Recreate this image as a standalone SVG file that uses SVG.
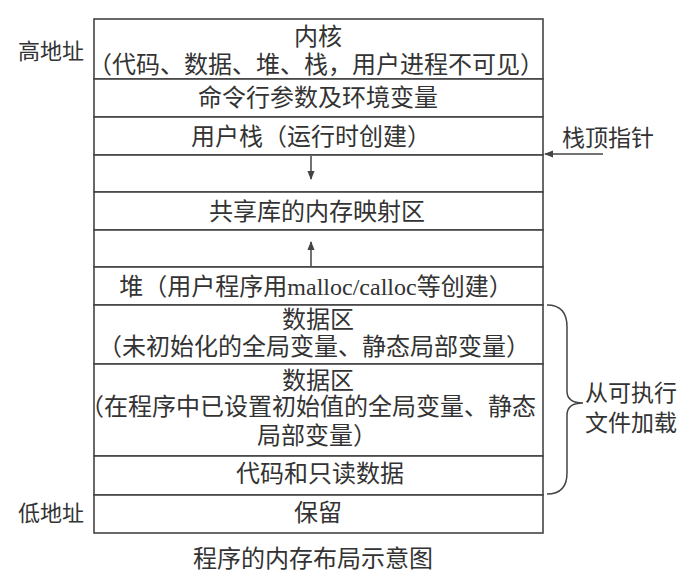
<svg xmlns="http://www.w3.org/2000/svg" width="691" height="576" viewBox="0 0 691 576">
<defs>
<style>
.row{fill:#ffffff;stroke:#444;stroke-width:1.6}
.t{font-family:"Liberation Serif","Noto Sans CJK SC",serif;font-size:24px;fill:#333;text-anchor:middle}
.s{font-family:"Liberation Serif","Noto Sans CJK SC",serif;font-size:22px;fill:#333}
.r{font-family:"Liberation Serif","Noto Sans CJK SC",serif;font-size:23px;fill:#333}
.ln{stroke:#444;stroke-width:1.5;fill:none}
</style>
<marker id="ah" viewBox="0 0 10 10" refX="9" refY="5" markerWidth="9" markerHeight="9" markerUnits="userSpaceOnUse" orient="auto">
<path d="M0,1 L10,5 L0,9 Z" fill="#444"/>
</marker>
</defs>
<rect width="691" height="576" fill="#ffffff"/>
<g id="kernel"><rect class="row" x="94" y="19" width="449" height="60"/><text class="t" x="318" y="45">内核</text><text class="t" x="316" y="73">（代码、数据、堆、栈，用户进程不可见）</text></g>
<g id="args"><rect class="row" x="94" y="79" width="449" height="38"/><text class="t" x="318" y="106">命令行参数及环境变量</text></g>
<g id="user-stack"><rect class="row" x="94" y="117" width="449" height="38"/><text class="t" x="311" y="145">用户栈（运行时创建）</text></g>
<g id="gap-stack"><rect class="row" x="94" y="155" width="449" height="37"/></g>
<g id="shared-lib"><rect class="row" x="94" y="192" width="449" height="38"/><text class="t" x="317" y="220">共享库的内存映射区</text></g>
<g id="gap-heap"><rect class="row" x="94" y="230" width="449" height="37"/></g>
<g id="heap"><rect class="row" x="94" y="267" width="449" height="38"/><text class="t" x="316" y="295">堆（用户程序用malloc/calloc等创建）</text></g>
<g id="bss"><rect class="row" x="94" y="305" width="449" height="59"/><text class="t" x="318" y="328">数据区</text><text class="t" x="314" y="355">（未初始化的全局变量、静态局部变量）</text></g>
<g id="data"><rect class="row" x="94" y="364" width="449" height="92"/><text class="t" x="318" y="389">数据区</text><text class="t" x="308" y="415">（在程序中已设置初始值的全局变量、静态</text><text class="t" x="317" y="444">局部变量）</text></g>
<g id="text-seg"><rect class="row" x="94" y="456" width="449" height="39"/><text class="t" x="320" y="482">代码和只读数据</text></g>
<g id="reserved"><rect class="row" x="94" y="495" width="449" height="38"/><text class="t" x="318" y="521">保留</text></g>
<g id="high-addr"><text class="s" x="18" y="59">高地址</text></g>
<g id="low-addr"><text class="s" x="18" y="521">低地址</text></g>
<g id="sp-label"><text class="r" x="562" y="146">栈顶指针</text></g>
<g id="load-label"><text class="r" x="585" y="401">从可执行</text><text class="r" x="585" y="431">文件加载</text></g>
<g id="caption"><text class="t" x="313" y="567">程序的内存布局示意图</text></g>
<g id="connectors">
<line class="ln" x1="311" y1="156" x2="311" y2="179" marker-end="url(#ah)"/>
<line class="ln" x1="311" y1="266" x2="311" y2="242" marker-end="url(#ah)"/>
<line class="ln" x1="603" y1="154" x2="545" y2="154" marker-end="url(#ah)"/>
<path class="ln" d="M547,305 Q567,305 567,327 L567,391 Q567,403 583,403 Q567,403 567,415 L567,473 Q567,494 547,494"/>
</g>
</svg>
